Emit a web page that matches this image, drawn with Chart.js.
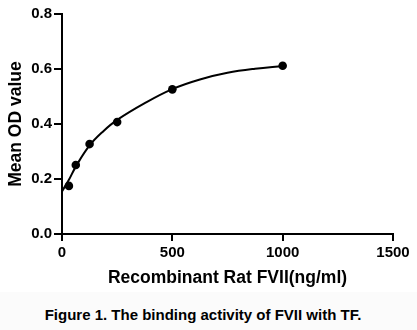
<!DOCTYPE html>
<html>
<head>
<meta charset="utf-8">
<script src="https://cdn.jsdelivr.net/npm/chart.js@4"></script>
<style>
  html, body { margin: 0; padding: 0; background: #ffffff; }
  body { width: 417px; height: 330px; position: relative; overflow: hidden; font-family: "Liberation Sans", Arial, sans-serif; }
  #wrap { position: absolute; left: 0; top: 0; width: 417px; height: 292px; }
  #foot { position: absolute; left: 0; top: 292px; width: 417px; height: 38px; background: #fbfbfb; }
  #caption { position: absolute; left: 0; top: 306px; width: 406px; text-align: center; font-weight: bold; font-size: 15px; color: #000; line-height: 18px; }
</style>
</head>
<body>
<div id="wrap"><canvas id="c" width="417" height="292"></canvas></div>
<div id="foot"></div>
<div id="caption">Figure 1. The binding activity of FVII with TF.</div>
<script>
// Measured points
const concentrations = [31.25, 62.5, 125, 250, 500, 1000];
const meanOD = [0.175, 0.251, 0.327, 0.407, 0.526, 0.612];
// Fitted curve
const curveX = [0, 31.25, 62.5, 125, 187.5, 250, 375, 500, 625, 750, 875, 1000];
const curveY = [0.155, 0.197, 0.245, 0.322, 0.374, 0.415, 0.476, 0.527, 0.562, 0.586, 0.601, 0.611];
// Tick labels
const xTicks = [0, 500, 1000, 1500];
const yTicks = [0.0, 0.2, 0.4, 0.6, 0.8];
const xTitle = 'Recombinant Rat FVII(ng/ml)';
const yTitle = 'Mean OD value';

const FONT = '"Liberation Sans", Arial, sans-serif';

new Chart(document.getElementById('c'), {
  type: 'scatter',
  data: {
    datasets: [
      {
        data: curveX.map((x, i) => ({ x: x, y: curveY[i] })),
        showLine: true,
        borderColor: '#000',
        borderWidth: 2,
        pointRadius: 0,
        tension: 0.4,
        fill: false,
        clip: false
      },
      {
        data: concentrations.map((x, i) => ({ x: x, y: meanOD[i] })),
        showLine: false,
        pointRadius: 4.3,
        pointBackgroundColor: '#000',
        pointBorderColor: '#000',
        pointBorderWidth: 0,
        clip: false
      }
    ]
  },
  options: {
    responsive: false,
    animation: false,
    devicePixelRatio: 1,
    layout: { padding: { left: 0, right: 24, top: 14, bottom: 0 } },
    plugins: { legend: { display: false }, tooltip: { enabled: false } },
    scales: {
      x: {
        type: 'linear',
        min: 0, max: 1500,
        afterBuildTicks: (s) => { s.ticks = xTicks.map(v => ({ value: v })); },
        afterFit: (s) => { s.height = 58; },
        border: { color: '#000', width: 2 },
        grid: { drawOnChartArea: false, drawTicks: true, tickLength: 7, color: '#000', lineWidth: 2 },
        ticks: { color: '#000', padding: 3, maxRotation: 0, font: { family: FONT, size: 15, weight: 'bold' }, callback: (v) => String(v) },
        title: { display: true, text: xTitle, color: '#000', font: { family: FONT, size: 17.5, weight: 'bold' }, padding: { top: 0, bottom: 3 } }
      },
      y: {
        type: 'linear',
        min: 0, max: 0.8,
        afterBuildTicks: (s) => { s.ticks = yTicks.map(v => ({ value: v })); },
        afterFit: (s) => { s.width = 62; },
        border: { color: '#000', width: 2 },
        grid: { drawOnChartArea: false, drawTicks: true, tickLength: 8, color: '#000', lineWidth: 2 },
        ticks: { color: '#000', padding: 2, font: { family: FONT, size: 15, weight: 'bold' }, callback: (v) => Number(v).toFixed(1) },
        title: { display: true, text: yTitle, color: '#000', font: { family: FONT, size: 17.5, weight: 'bold' }, padding: { top: 6, bottom: 0 } }
      }
    }
  }
});
</script>
</body>
</html>
